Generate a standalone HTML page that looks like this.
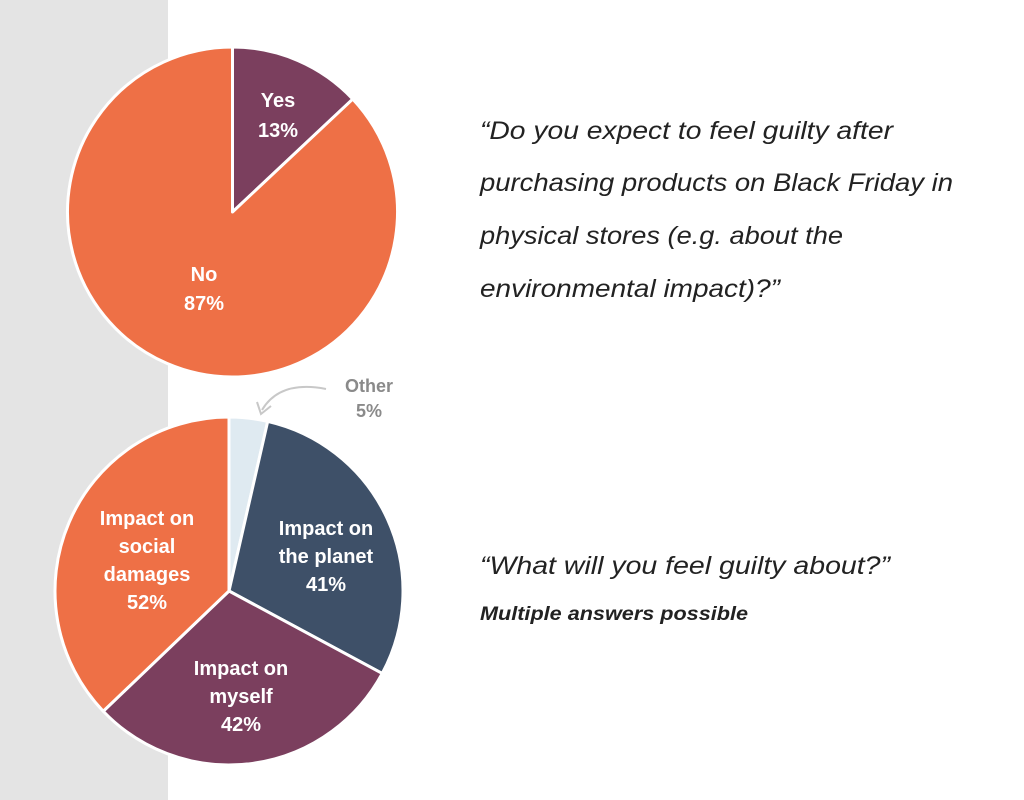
<!DOCTYPE html>
<html><head><meta charset="utf-8"><style>
html,body{margin:0;padding:0;background:#fff}
svg{display:block}
text{font-family:"Liberation Sans",sans-serif}
</style></head><body>
<svg width="1024" height="800" viewBox="0 0 1024 800">
<rect x="0" y="0" width="168" height="800" fill="#e4e4e4"/>
<g id="pie1"></g>
<g id="pie2"></g>
<g font-weight="bold" fill="#fff" font-size="20" text-anchor="middle">
<text x="278" y="107">Yes</text>
<text x="278" y="137">13%</text>
<text x="204" y="281">No</text>
<text x="204" y="310">87%</text>
<text x="147" y="525">Impact on</text>
<text x="147" y="553">social</text>
<text x="147" y="581">damages</text>
<text x="147" y="609">52%</text>
<text x="326" y="535">Impact on</text>
<text x="326" y="563">the planet</text>
<text x="326" y="591">41%</text>
<text x="241" y="675">Impact on</text>
<text x="241" y="703">myself</text>
<text x="241" y="731">42%</text>
</g>
<g font-weight="bold" fill="#8a8a8a" font-size="18" text-anchor="middle">
<text x="369" y="392">Other</text>
<text x="369" y="417">5%</text>
</g>
<path d="M326 389 Q280 380 262 410" fill="none" stroke="#c8c8c8" stroke-width="2"/>
<path d="M257 402 L261 414 L271 406" fill="none" stroke="#c8c8c8" stroke-width="2"/>
<g font-style="italic" fill="#222" font-size="25">
<text x="480" y="139" textLength="413" lengthAdjust="spacingAndGlyphs">“Do you expect to feel guilty after</text>
<text x="480" y="191" textLength="473" lengthAdjust="spacingAndGlyphs">purchasing products on Black Friday in</text>
<text x="480" y="244" textLength="363" lengthAdjust="spacingAndGlyphs">physical stores (e.g. about the</text>
<text x="480" y="297" textLength="300" lengthAdjust="spacingAndGlyphs">environmental impact)?”</text>
</g>
<text x="480" y="574" font-style="italic" fill="#222" font-size="25" textLength="410" lengthAdjust="spacingAndGlyphs">“What will you feel guilty about?”</text>
<text x="480" y="620" font-style="italic" font-weight="bold" fill="#222" font-size="19" textLength="268" lengthAdjust="spacingAndGlyphs">Multiple answers possible</text>
</svg>
<script>
const pie1Categories = ["Yes","No"];
const pie1Values = [13,87];
const pie1Colors = ["#7b3f5e","#ee7046"];
const pie2Categories = ["Other","Impact on the planet","Impact on myself","Impact on social damages"];
const pie2Values = [5,41,42,52];
const pie2Colors = ["#dfeaf1","#3e5068","#7b3f5e","#ee7046"];
const NS="http://www.w3.org/2000/svg";
function drawPie(g, cats, vals, cols, cx, cy, r){
  const total = vals.reduce((a,b)=>a+b,0);
  let a0 = 0;
  vals.forEach((v,i)=>{
    const a1 = a0 + v/total*2*Math.PI;
    const x0=cx+r*Math.sin(a0), y0=cy-r*Math.cos(a0);
    const x1=cx+r*Math.sin(a1), y1=cy-r*Math.cos(a1);
    const large = (a1-a0)>Math.PI?1:0;
    const p=document.createElementNS(NS,"path");
    p.setAttribute("d",`M${cx} ${cy} L${x0} ${y0} A${r} ${r} 0 ${large} 1 ${x1} ${y1} Z`);
    p.setAttribute("fill",cols[i]);
    p.setAttribute("stroke","#fff");
    p.setAttribute("stroke-width","3");
    p.setAttribute("stroke-linejoin","round");
    
    
    g.appendChild(p);
    a0 = a1;
  });
}
drawPie(document.getElementById("pie1"), pie1Categories, pie1Values, pie1Colors, 232.5, 212, 165);
drawPie(document.getElementById("pie2"), pie2Categories, pie2Values, pie2Colors, 229, 591, 174);
</script>
</body></html>
